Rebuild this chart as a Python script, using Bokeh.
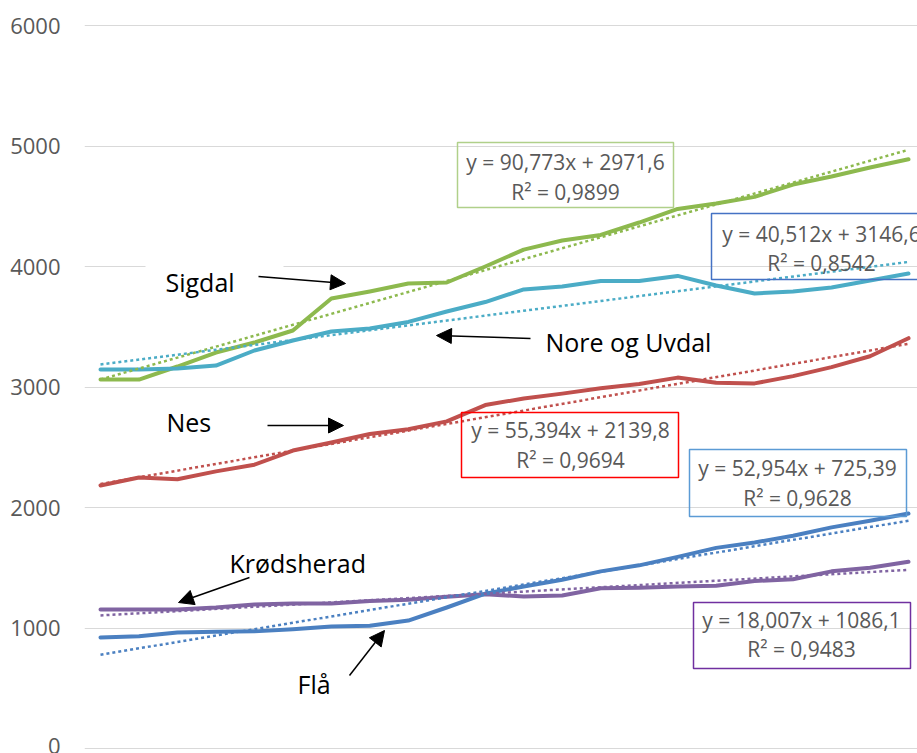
from bokeh.plotting import figure
from bokeh.models import Range1d, Label, Arrow, NormalHead, FixedTicker
from bokeh.embed import file_html
from bokeh.resources import INLINE

# ---------------- data ----------------
periods = list(range(1, 23))

sigdal = [3062, 3062, 3170, 3286, 3369, 3469, 3734, 3793, 3859, 3867, 4000,
          4140, 4216, 4262, 4365, 4478, 4523, 4578, 4680, 4747, 4822, 4890]
nore_og_uvdal = [3145, 3145, 3154, 3178, 3303, 3386, 3461, 3485, 3540, 3627, 3705,
                 3810, 3834, 3880, 3880, 3922, 3842, 3776, 3793, 3826, 3884, 3942]
nes = [2183, 2249, 2235, 2300, 2355, 2473, 2540, 2610, 2650, 2715, 2850,
       2905, 2945, 2990, 3025, 3078, 3035, 3030, 3090, 3165, 3255, 3405]
fla = [922, 932, 962, 968, 972, 990, 1012, 1018, 1062, 1170, 1285,
       1345, 1400, 1470, 1520, 1590, 1665, 1710, 1765, 1835, 1890, 1950]
krodsherad = [1153, 1153, 1153, 1170, 1195, 1203, 1203, 1225, 1235, 1260, 1280,
              1262, 1270, 1330, 1335, 1345, 1350, 1390, 1405, 1470, 1500, 1550]

series_names = ["Sigdal", "Nore og Uvdal", "Nes", "Krødsherad", "Flå"]
series_values = [sigdal, nore_og_uvdal, nes, krodsherad, fla]
series_colors = ["#8DB94E", "#4BACC6", "#C0504D", "#8064A2", "#4B80C1"]

trend_slope = [90.773, 40.512, 55.394, 18.007, 52.954]
trend_intercept = [2971.6, 3146.6, 2139.8, 1086.1, 725.39]
eq_texts = ["y = 90,773x + 2971,6", "y = 40,512x + 3146,6", "y = 55,394x + 2139,8",
            "y = 18,007x + 1086,1", "y = 52,954x + 725,39"]
r2_texts = ["R² = 0,9899", "R² = 0,8542", "R² = 0,9694", "R² = 0,9483", "R² = 0,9628"]

y_ticks = [0, 1000, 2000, 3000, 4000, 5000, 6000]
y_tick_labels = ["0", "1000", "2000", "3000", "4000", "5000", "6000"]

# ---------------- layout helpers (page pixel -> data) ----------------
def dx(px):
    return 1 + (px - 100) / 38.476

def dy(py):
    return (748 - py) / 0.1205

FONT = "Open Sans"

p = figure(width=917, height=753, output_backend="svg", toolbar_location=None,
           x_range=Range1d(dx(84), dx(917)), y_range=Range1d(dy(753), dy(0)),
           x_axis_location=None,
           min_border_left=84, min_border_right=0, min_border_top=0, min_border_bottom=0)
p.outline_line_color = None
p.background_fill_color = "white"
p.border_fill_color = "white"
p.xgrid.visible = False
p.ygrid.ticker = FixedTicker(ticks=y_ticks)
p.ygrid.grid_line_color = "#D9D9D9"
p.ygrid.grid_line_width = 1

ax = p.yaxis[0]
ax.ticker = FixedTicker(ticks=y_ticks)
ax.major_label_overrides = {t: l for t, l in zip(y_ticks, y_tick_labels)}
ax.axis_line_color = None
ax.major_tick_line_color = None
ax.minor_tick_line_color = None
ax.major_tick_out = 0
ax.major_tick_in = 0
ax.major_label_standoff = 24
ax.major_label_text_font = FONT
ax.major_label_text_font_size = "22px"
ax.major_label_text_color = "#595959"

# white mask behind "Sigdal" label (covers gridline like the Excel text box)
p.quad(left=[dx(145)], right=[dx(283)], top=[dy(258)], bottom=[dy(272)],
       fill_color="white", line_color=None)

# data lines
for vals, col in zip(series_values, series_colors):
    p.line(periods, vals, line_color=col, line_width=4, line_join="round", line_cap="round")

# trend lines
for m, b, col in zip(trend_slope, trend_intercept, series_colors):
    xs = [periods[0], periods[-1]]
    ys = [m * x + b for x in xs]
    p.line(xs, ys, line_color=col, line_width=2.5, line_dash="3 3")

# trend label boxes: (left, right, top, bottom, center_x, line1_y, line2_y, border colour)
boxes = [
    (457, 673, 142, 207, 565, 161, 191, "#B0D08A"),
    (711, 940, 213, 279, 821, 233, 262, "#4472C4"),
    (461, 678, 412, 477, 570, 429, 459, "#FF0000"),
    (693, 910, 602, 668, 801, 619, 648, "#7030A0"),
    (689, 906, 449, 516, 797, 467, 497, "#5B9BD5"),
]
for (l, r, t, bt, cx, y1, y2, bc), eq, r2 in zip(boxes, eq_texts, r2_texts):
    p.quad(left=[dx(l)], right=[dx(r)], top=[dy(t)], bottom=[dy(bt)],
           fill_color=None, line_color=bc, line_width=1.5)
    for txt, yy in ((eq, y1), (r2, y2)):
        p.add_layout(Label(x=dx(cx), y=dy(yy), text=txt, text_align="center",
                           text_baseline="middle", text_font=FONT,
                           text_font_size="21px", text_color="#595959"))

# series name labels and arrows
name_pos = [(165, 281), (545, 341), (166, 421), (229, 562), (297, 683)]
arrows = [((258, 276), (345, 283)), ((530, 338), (436, 335)), ((267, 425), (343, 425)),
          ((249, 577), (178, 602)), ((349, 675), (384, 630))]
for name, (lx, ly), ((x0, y0), (x1, y1)) in zip(series_names, name_pos, arrows):
    p.add_layout(Label(x=dx(lx), y=dy(ly), text=name, text_align="left",
                       text_baseline="middle", text_font=FONT,
                       text_font_size="25px", text_color="black"))
    p.add_layout(Arrow(end=NormalHead(size=15, fill_color="black", line_color="black"),
                       x_start=dx(x0), y_start=dy(y0), x_end=dx(x1), y_end=dy(y1),
                       line_color="black", line_width=1.5))

open("out.html", "w").write(file_html(p, INLINE))
